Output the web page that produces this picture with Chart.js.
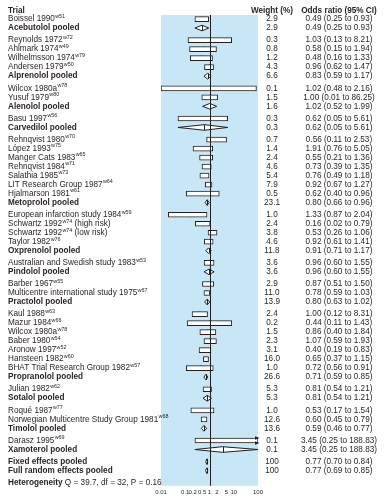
<!DOCTYPE html>
<html>
<head>
<meta charset="utf-8">
<script src="https://cdn.jsdelivr.net/npm/chart.js@4.4.1/dist/chart.umd.min.js"></script>
<style>
html, body { margin: 0; padding: 0; background: #fff; }
canvas { display: block; }
</style>
</head>
<body>
<canvas id="forest" width="388" height="500"></canvas>
<script>
// Forest plot - beta blockers after myocardial infarction
// '^' in a label marks the superscript reference (and an optional tail after it)
const rowLabels = [
    'Boissel 1990^w51', 'Acebutolol pooled',
    'Reynolds 1972^w72', 'Ahlmark 1974^w49', 'Wilhelmsson 1974^w79', 'Andersen 1979^w50', 'Alprenolol pooled',
    'Wilcox 1980a^w78', 'Yusuf 1979^w80', 'Alenolol pooled',
    'Basu 1997^w56', 'Carvedilol pooled',
    'Rehnqvist 1980^w70', 'López 1993^w75', 'Manger Cats 1983^w65', 'Rehnqvist 1984^w71', 'Salathia 1985^w73',
    'LIT Research Group 1987^w64', 'Hjalmarson 1981^w61', 'Metoprolol pooled',
    'European infarction study 1984^w59', 'Schwartz 1992^w74^ (high risk)', 'Schwartz 1992^w74^ (low risk)',
    'Taylor 1982^w76', 'Oxprenolol pooled',
    'Australian and Swedish study 1983^w53', 'Pindolol pooled',
    'Barber 1967^w55', 'Multicentre international study 1975^w67', 'Practolol pooled',
    'Kaul 1988^w63', 'Mazur 1984^w66', 'Wilcox 1980a^w78', 'Baber 1980^w54', 'Aronow 1997^w52', 'Hansteen 1982^w60',
    'BHAT Trial Research Group 1982^w57', 'Propranolol pooled',
    'Julian 1982^w62', 'Sotalol pooled',
    'Roqué 1987^w77', 'Norwegian Multicentre Study Group 1981^w68', 'Timolol pooled',
    'Darasz 1995^w69', 'Xamoterol pooled',
    'Fixed effects pooled', 'Full random effects pooled'
];
// t = single trial, p = drug pooled, o = overall pooled
const rowKind = [
    't', 'p',
    't', 't', 't', 't', 'p',
    't', 't', 'p',
    't', 'p',
    't', 't', 't', 't', 't', 't', 't', 'p',
    't', 't', 't', 't', 'p',
    't', 'p',
    't', 't', 'p',
    't', 't', 't', 't', 't', 't', 't', 'p',
    't', 'p',
    't', 't', 'p',
    't', 'p',
    'o', 'o'
];
const weights = [
    2.9, 2.9, 0.3, 0.8, 1.2, 4.3, 6.6, 0.1, 1.5, 1.6, 0.3, 0.3,
    0.7, 1.4, 2.4, 4.6, 5.4, 7.9, 0.5, 23.1, 1.0, 2.4, 3.8, 4.6, 11.8,
    3.6, 3.6, 2.9, 11.0, 13.9, 2.4, 0.2, 1.5, 2.3, 3.1, 16.0, 1.0, 26.6,
    5.3, 5.3, 1.0, 12.6, 13.6, 0.1, 0.1, 100, 100
];
const orText = [
    '0.49 (0.25 to 0.93)', '0.49 (0.25 to 0.93)',
    '1.03 (0.13 to 8.21)', '0.58 (0.15 to 1.94)', '0.48 (0.16 to 1.33)', '0.96 (0.62 to 1.47)', '0.83 (0.59 to 1.17)',
    '1.02 (0.48 to 2.16)', '1.00 (0.01 to 86.25)', '1.02 (0.52 to 1.99)',
    '0.62 (0.05 to 5.61)', '0.62 (0.05 to 5.61)',
    '0.56 (0.11 to 2.53)', '1.91 (0.76 to 5.05)', '0.55 (0.21 to 1.36)', '0.73 (0.39 to 1.35)', '0.76 (0.49 to 1.18)',
    '0.92 (0.67 to 1.27)', '0.62 (0.40 to 0.96)', '0.80 (0.66 to 0.96)',
    '1.33 (0.87 to 2.04)', '0.16 (0.02 to 0.79)', '0.53 (0.26 to 1.06)', '0.92 (0.61 to 1.41)', '0.91 (0.71 to 1.17)',
    '0.96 (0.60 to 1.55)', '0.96 (0.60 to 1.55)',
    '0.87 (0.51 to 1.50)', '0.78 (0.59 to 1.03)', '0.80 (0.63 to 1.02)',
    '1.00 (0.12 to 8.31)', '0.44 (0.11 to 1.43)', '0.86 (0.40 to 1.84)', '1.07 (0.59 to 1.93)', '0.40 (0.19 to 0.83)',
    '0.65 (0.37 to 1.15)', '0.72 (0.56 to 0.91)', '0.71 (0.59 to 0.85)',
    '0.81 (0.54 to 1.21)', '0.81 (0.54 to 1.21)',
    '0.53 (0.17 to 1.54)', '0.60 (0.45 to 0.79)', '0.59 (0.46 to 0.77)',
    '3.45 (0.25 to 188.83)', '3.45 (0.25 to 188.83)',
    '0.77 (0.70 to 0.84)', '0.77 (0.69 to 0.85)'
];
// plotted marks, as drawn in each row of the figure
const oddsRatio = [
    0.49, 0.49, 1.03, 0.58, 0.48, 0.96, 0.83, 1.00, 1.02, 1.02, 0.62, 0.62,
    1.91, 0.55, 0.73, 0.76, 0.62, 0.92, 0.56, 0.80, 0.16, 0.53, 1.33, 0.92, 0.91,
    0.96, 0.96, 0.87, 0.78, 0.80, 0.40, 1.00, 0.86, 1.07, 0.65, 0.72, 0.44, 0.71,
    0.81, 0.81, 0.53, 0.60, 0.59, 3.45, 3.45, 0.77, 0.77
];
const ciLow = [
    0.25, 0.25, 0.13, 0.15, 0.16, 0.62, 0.59, 0.01, 0.48, 0.52, 0.05, 0.05,
    0.76, 0.21, 0.39, 0.49, 0.40, 0.67, 0.11, 0.66, 0.02, 0.26, 0.87, 0.61, 0.71,
    0.60, 0.60, 0.51, 0.59, 0.63, 0.19, 0.12, 0.40, 0.59, 0.37, 0.56, 0.11, 0.59,
    0.54, 0.54, 0.17, 0.45, 0.46, 0.25, 0.25, 0.70, 0.69
];
const ciHigh = [
    0.93, 0.93, 8.21, 1.94, 1.33, 1.47, 1.17, 86.25, 2.16, 1.99, 5.61, 5.61,
    5.05, 1.36, 1.35, 1.18, 0.96, 1.27, 2.53, 0.96, 0.79, 1.06, 2.04, 1.41, 1.17,
    1.55, 1.55, 1.50, 1.03, 1.02, 0.83, 8.31, 1.84, 1.93, 1.15, 0.91, 1.43, 0.85,
    1.21, 1.21, 1.54, 0.79, 0.77, 188.83, 188.83, 0.84, 0.85
];
const tickValues = [0.01, 0.1, 0.2, 0.5, 1, 2, 5, 10, 100];
const tickLabels = ['0.01', '0.1', '0.2', '0.5', '1', '2', '5', '10', '100'];
const headers = ['Trial', 'Weight (%)', 'Odds ratio (95% CI)'];
const heterogeneity = ['Heterogeneity', ' Q = 39.7, df = 32, P = 0.16'];

const X_MIN = 0.01, X_MAX = 100;
const GROUP_GAP = 0.35;
const INK = '#231f20';
const PANEL = '#c8e7f6';
const FONT = '"Liberation Sans", Arial, Helvetica, sans-serif';

// row positions: one unit per row, a little extra after each drug group
let gapCount = 0;
const rowPos = rowKind.map(function(kind, i) {
    const pos = i + gapCount * GROUP_GAP;
    if (kind === 'p') gapCount++;
    return pos;
});
const Y_MIN = -0.45;
const Y_MAX = Y_MIN + 471 / 9;
const HEADER_POS = -0.93;
const HET_POS = rowPos[rowPos.length - 1] + 1.3;

const trialBars = [], trialMarks = [], heavyMarks = [];
rowKind.forEach(function(kind, i) {
    if (kind !== 't') return;
    trialBars.push({ x: [ciLow[i], Math.min(ciHigh[i], X_MAX)], y: rowPos[i] });
    trialMarks.push({ x: oddsRatio[i], y: rowPos[i] });
    if (weights[i] >= 10) heavyMarks.push({ x: oddsRatio[i], y: rowPos[i], w: weights[i] });
});

function fmtWeight(w) {
    return w === 100 ? '100' : w.toFixed(1);
}

function drawLabel(c, text, x, y, bold) {
    const parts = text.split('^');
    const main = (bold ? 'bold ' : '') + '8.2px ' + FONT;
    c.font = main;
    c.fillText(parts[0], x, y);
    let cx = x + c.measureText(parts[0]).width;
    if (parts[1]) {
        c.font = '5.4px ' + FONT;
        c.fillText(parts[1], cx + 0.3, y - 2.6);
        cx += c.measureText(parts[1]).width + 0.3;
    }
    if (parts[2]) {
        c.font = main;
        c.fillText(parts[2], cx, y);
    }
}

const forestPlugin = {
    id: 'forest',
    beforeDatasetsDraw(chart) {
        const c = chart.ctx, a = chart.chartArea;
        c.save();
        c.fillStyle = PANEL;
        c.fillRect(a.left, a.top, a.right - a.left, a.bottom - a.top);
        c.restore();
    },
    afterDatasetsDraw(chart) {
        const c = chart.ctx, a = chart.chartArea;
        const xs = chart.scales.x, ys = chart.scales.y;
        c.save();
        c.strokeStyle = INK;
        c.lineWidth = 1;
        // pooled diamonds
        rowKind.forEach(function(kind, i) {
            if (kind === 't') return;
            const y = ys.getPixelForValue(rowPos[i]);
            const lo = xs.getPixelForValue(ciLow[i]);
            const hi = xs.getPixelForValue(Math.min(ciHigh[i], X_MAX));
            const est = xs.getPixelForValue(oddsRatio[i]);
            const h = 2.8;
            c.beginPath();
            c.moveTo(lo, y);
            c.lineTo(est, y - h);
            c.lineTo(hi, y);
            c.lineTo(est, y + h);
            c.closePath();
            c.fillStyle = '#fff';
            c.fill();
            c.stroke();
            c.beginPath();
            c.moveTo(Math.round(est) + 0.5, y - h);
            c.lineTo(Math.round(est) + 0.5, y + h);
            c.stroke();
        });
        // arrows for intervals running past the axis
        rowKind.forEach(function(kind, i) {
            if (kind !== 't' || ciHigh[i] <= X_MAX) return;
            const y = ys.getPixelForValue(rowPos[i]);
            const right = xs.getPixelForValue(X_MAX);
            c.fillStyle = INK;
            [y - 2.5, y + 2.5].forEach(function(ay) {
                c.beginPath();
                c.moveTo(right + 1.5, ay);
                c.lineTo(right - 3, ay - 1.8);
                c.lineTo(right - 3, ay + 1.8);
                c.closePath();
                c.fill();
            });
        });
        // line of no effect
        const x1 = Math.round(xs.getPixelForValue(1)) + 0.5;
        c.beginPath();
        c.moveTo(x1, a.top);
        c.lineTo(x1, a.bottom);
        c.stroke();
        c.restore();
    },
    afterDraw(chart) {
        const c = chart.ctx, ys = chart.scales.y;
        c.save();
        c.fillStyle = INK;
        c.textBaseline = 'middle';
        const hy = ys.getPixelForValue(HEADER_POS);
        c.font = 'bold 8.2px ' + FONT;
        c.textAlign = 'left';
        c.fillText(headers[0], 8, hy);
        c.textAlign = 'center';
        c.fillText(headers[1], 272, hy);
        c.fillText(headers[2], 339, hy);

        rowLabels.forEach(function(label, i) {
            const y = ys.getPixelForValue(rowPos[i]);
            c.textAlign = 'left';
            drawLabel(c, label, 8, y, rowKind[i] !== 't');
            c.font = '8.2px ' + FONT;
            c.textAlign = 'center';
            c.fillText(fmtWeight(weights[i]), 272, y);
            c.fillText(orText[i], 339, y);
        });

        const ty = ys.getPixelForValue(HET_POS);
        c.textAlign = 'left';
        c.font = 'bold 8.2px ' + FONT;
        c.fillText(heterogeneity[0], 8, ty);
        const w = c.measureText(heterogeneity[0]).width;
        c.font = '8.2px ' + FONT;
        c.fillText(heterogeneity[1], 8 + w, ty);
        c.restore();
    }
};

document.addEventListener('DOMContentLoaded', function() {
    const ctx = document.getElementById('forest');
    new Chart(ctx, {
        type: 'bar',
        data: {
            datasets: [{
                type: 'bar',
                indexAxis: 'y',
                data: trialBars,
                backgroundColor: '#ffffff',
                borderColor: INK,
                borderWidth: 1,
                borderSkipped: false,
                barThickness: 5
            }, {
                type: 'scatter',
                data: trialMarks,
                pointStyle: 'line',
                rotation: 90,
                pointRadius: 2.5,
                borderColor: INK,
                borderWidth: 1
            }, {
                type: 'scatter',
                data: heavyMarks,
                pointStyle: 'rect',
                pointRadius: function(ctx) {
                    const p = ctx.raw;
                    return p ? Math.sqrt(p.w) * 0.75 : 0;
                },
                backgroundColor: INK,
                borderColor: INK,
                borderWidth: 0
            }]
        },
        options: {
            responsive: false,
            animation: false,
            layout: { padding: { top: 15, left: 161, right: 130, bottom: 1 } },
            plugins: {
                legend: { display: false },
                tooltip: { enabled: false }
            },
            scales: {
                x: {
                    type: 'logarithmic',
                    min: X_MIN,
                    max: X_MAX,
                    offset: false,
                    grid: { display: false, drawTicks: false },
                    border: { display: false },
                    afterBuildTicks: function(scale) {
                        scale.ticks = tickValues.map(function(v) { return { value: v }; });
                    },
                    ticks: {
                        autoSkip: false,
                        maxRotation: 0,
                        padding: 3,
                        color: INK,
                        font: { size: 6, family: FONT },
                        callback: function(value, index) { return tickLabels[index]; }
                    }
                },
                y: {
                    type: 'linear',
                    reverse: true,
                    offset: false,
                    min: Y_MIN,
                    max: Y_MAX,
                    display: false
                }
            }
        },
        plugins: [forestPlugin]
    });
});
</script>
</body>
</html>
